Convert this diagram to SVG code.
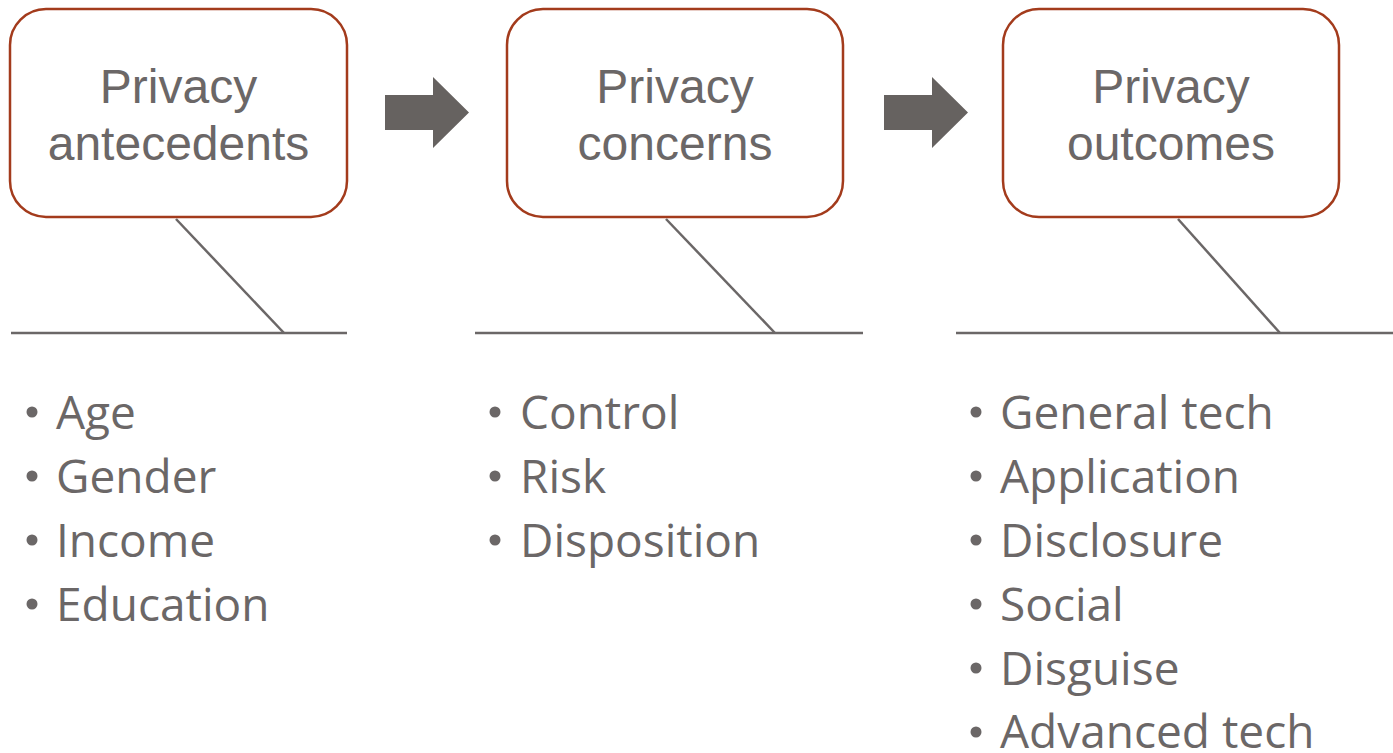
<svg xmlns="http://www.w3.org/2000/svg" width="1393" height="753" viewBox="0 0 1393 753">
  <style>
    .box { fill: #ffffff; stroke: #a33b1c; stroke-width: 2.5; }
    .title { font-family: "Liberation Sans", Arial, sans-serif; font-size: 48px; fill: #6b6767; text-anchor: middle; }
    .item { font-family: "Open Sans", "Noto Sans", sans-serif; font-size: 46px; fill: #6b6767; }
    .dot { fill: #6b6767; }
    .link { stroke: #6b6767; stroke-width: 2.5; fill: none; }
    .flow { fill: #666260; }
  </style>
  <rect width="1393" height="753" fill="#ffffff"/>

  <g id="connectors">
    <polygon class="flow" points="385,95 433,95 433,77 469,112.5 433,148 433,130 385,130"/>
    <polygon class="flow" points="884,95 932,95 932,77 968,112.5 932,148 932,130 884,130"/>
    <line class="link" x1="176" y1="219" x2="284" y2="333"/>
    <line class="link" x1="11" y1="333" x2="347" y2="333"/>
    <line class="link" x1="666" y1="219" x2="775" y2="333"/>
    <line class="link" x1="475" y1="333" x2="863" y2="333"/>
    <line class="link" x1="1178" y1="219" x2="1280" y2="333"/>
    <line class="link" x1="956" y1="333" x2="1393" y2="333"/>
  </g>

  <g id="antecedents">
    <rect class="box" x="10" y="9" width="337" height="208" rx="36"/>
    <text class="title" x="178.5" y="103">Privacy</text>
    <text class="title" x="178.5" y="160">antecedents</text>
    <circle class="dot" cx="32" cy="412" r="5.5"/>
    <text class="item" x="56" y="429">Age</text>
    <circle class="dot" cx="32" cy="476" r="5.5"/>
    <text class="item" x="56" y="493">Gender</text>
    <circle class="dot" cx="32" cy="540" r="5.5"/>
    <text class="item" x="56" y="557">Income</text>
    <circle class="dot" cx="32" cy="604" r="5.5"/>
    <text class="item" x="56" y="621">Education</text>
  </g>

  <g id="concerns">
    <rect class="box" x="507" y="9" width="336" height="208" rx="36"/>
    <text class="title" x="675" y="103">Privacy</text>
    <text class="title" x="675" y="160">concerns</text>
    <circle class="dot" cx="495" cy="412" r="5.5"/>
    <text class="item" x="520" y="429">Control</text>
    <circle class="dot" cx="495" cy="476" r="5.5"/>
    <text class="item" x="520" y="493">Risk</text>
    <circle class="dot" cx="495" cy="540" r="5.5"/>
    <text class="item" x="520" y="557">Disposition</text>
  </g>

  <g id="outcomes">
    <rect class="box" x="1003" y="9" width="336" height="208" rx="36"/>
    <text class="title" x="1171" y="103">Privacy</text>
    <text class="title" x="1171" y="160">outcomes</text>
    <circle class="dot" cx="976" cy="412" r="5.5"/>
    <text class="item" x="1000" y="429">General tech</text>
    <circle class="dot" cx="976" cy="476" r="5.5"/>
    <text class="item" x="1000" y="493">Application</text>
    <circle class="dot" cx="976" cy="540" r="5.5"/>
    <text class="item" x="1000" y="557">Disclosure</text>
    <circle class="dot" cx="976" cy="604" r="5.5"/>
    <text class="item" x="1000" y="621">Social</text>
    <circle class="dot" cx="976" cy="668" r="5.5"/>
    <text class="item" x="1000" y="685">Disguise</text>
    <circle class="dot" cx="976" cy="732" r="5.5"/>
    <text class="item" x="1000" y="748">Advanced tech</text>
  </g>
</svg>
